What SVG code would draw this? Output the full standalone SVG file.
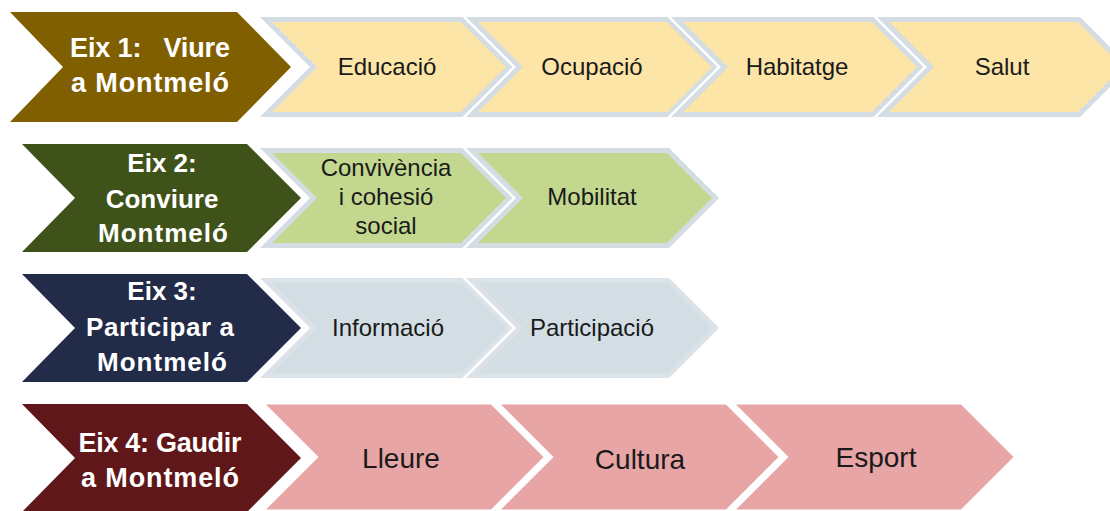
<svg xmlns="http://www.w3.org/2000/svg" xmlns:xlink="http://www.w3.org/1999/xlink" width="1110" height="511" viewBox="0 0 1110 511">
<style>
.dk{font-family:"Liberation Sans",Arial,sans-serif;font-weight:bold;font-size:26px;fill:#ffffff;text-anchor:middle}
.dk27{font-size:27px}
.lt{font-family:"Liberation Sans",Arial,sans-serif;font-size:24px;fill:#1a1a1a;text-anchor:middle}
.lt4{font-size:28px}
.gap{fill:#ffffff;stroke:#ffffff;stroke-width:5}
.yel{fill:#fde4a7;stroke:#d3dde3;stroke-width:5}
.grn{fill:#c3d78e;stroke:#d3dde3;stroke-width:5}
.blu{fill:#d3dde4;stroke:#dbe3e8;stroke-width:5}
.pnk{fill:#e8a5a6;stroke:#ffffff;stroke-width:5}
</style>
<defs>
<path id="lco" d="M0,0H203L253,50L203,100H0L50,50Z"/>
<path id="lc" d="M6,2.5H202L249.5,50L202,97.5H6L53.5,50Z"/>
<path id="pc" d="M0,0H232L287,55L232,110H0L55,55Z"/>
</defs>
<rect width="1110" height="511" fill="#ffffff"/>

<g id="eix1">
<polygon points="10,12 237,12 291,67 237,122 10,122 63,67" fill="#7f5f00"/>
<text class="dk dk27" x="150" y="57" xml:space="preserve" textLength="160">Eix 1:   Viure</text>
<text class="dk dk27" x="150" y="92" textLength="158">a Montmeló</text>
</g>
<g id="educacio">
<use xlink:href="#lco" x="260" y="17" class="gap"/>
<use xlink:href="#lc" x="260" y="17" class="yel"/>
<text class="lt" x="387" y="75">Educació</text>
</g>
<g id="ocupacio">
<use xlink:href="#lco" x="466" y="17" class="gap"/>
<use xlink:href="#lc" x="466" y="17" class="yel"/>
<text class="lt" x="592" y="75">Ocupació</text>
</g>
<g id="habitatge">
<use xlink:href="#lco" x="671" y="17" class="gap"/>
<use xlink:href="#lc" x="671" y="17" class="yel"/>
<text class="lt" x="797" y="75">Habitatge</text>
</g>
<g id="salut">
<use xlink:href="#lco" x="877" y="17" class="gap"/>
<use xlink:href="#lc" x="877" y="17" class="yel"/>
<text class="lt" x="1002" y="75">Salut</text>
</g>

<g id="eix2">
<polygon points="22,144 247,144 301,198 247,252 22,252 75,198" fill="#3f5219"/>
<text class="dk" x="162" y="172">Eix 2:</text>
<text class="dk" x="162" y="208">Conviure</text>
<text class="dk" x="163" y="242" textLength="130">Montmeló</text>
</g>
<g id="convivencia">
<use xlink:href="#lco" x="260" y="148" class="gap"/>
<use xlink:href="#lc" x="260" y="148" class="grn"/>
<text class="lt" x="386" y="176">Convivència</text>
<text class="lt" x="386" y="205">i cohesió</text>
<text class="lt" x="386" y="234">social</text>
</g>
<g id="mobilitat">
<use xlink:href="#lco" x="466" y="148" class="gap"/>
<use xlink:href="#lc" x="466" y="148" class="grn"/>
<text class="lt" x="592" y="205">Mobilitat</text>
</g>

<g id="eix3">
<polygon points="22,274 247,274 301,328 247,382 22,382 75,328" fill="#222b48"/>
<text class="dk" x="162" y="300">Eix 3:</text>
<text class="dk" x="160" y="336" textLength="148">Participar a</text>
<text class="dk" x="162" y="371" textLength="130">Montmeló</text>
</g>
<g id="informacio">
<use xlink:href="#lco" x="260" y="278" class="gap"/>
<use xlink:href="#lc" x="260" y="278" class="blu"/>
<text class="lt" x="388" y="336">Informació</text>
</g>
<g id="participacio">
<use xlink:href="#lco" x="466" y="278" class="gap"/>
<use xlink:href="#lc" x="466" y="278" class="blu"/>
<text class="lt" x="592" y="336">Participació</text>
</g>

<g id="eix4">
<polygon points="22,404 247,404 301,458 247,512 22,512 75,458" fill="#5f1719"/>
<text class="dk dk27" x="160" y="452" textLength="163">Eix 4: Gaudir</text>
<text class="dk dk27" x="160" y="487" textLength="158">a Montmeló</text>
</g>
<g id="lleure">
<use xlink:href="#pc" x="260" y="402" class="pnk"/>
<text class="lt lt4" x="401" y="468">Lleure</text>
</g>
<g id="cultura">
<use xlink:href="#pc" x="495" y="402" class="pnk"/>
<text class="lt lt4" x="640" y="469">Cultura</text>
</g>
<g id="esport">
<use xlink:href="#pc" x="730" y="402" class="pnk"/>
<text class="lt lt4" x="876" y="467">Esport</text>
</g>
<g id="connectors"/>
</svg>
